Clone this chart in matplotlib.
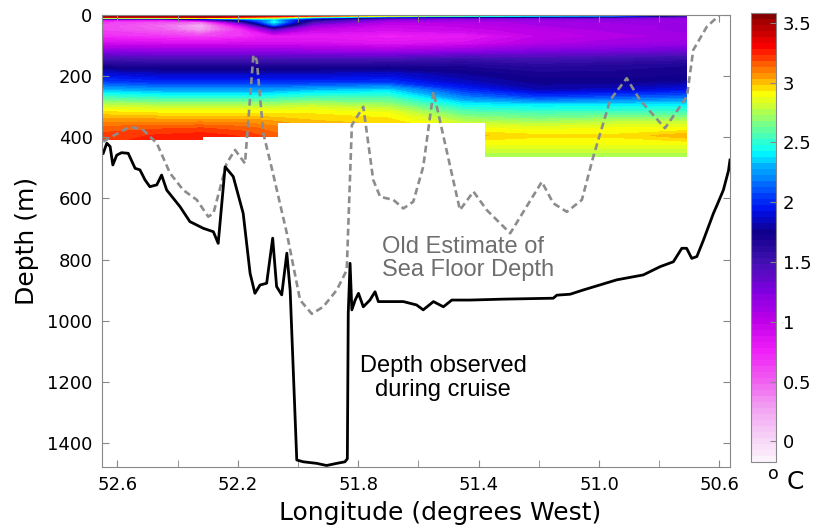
import numpy as np
import matplotlib
matplotlib.use('Agg')
import matplotlib.pyplot as plt
from matplotlib.colors import LinearSegmentedColormap
from matplotlib.patches import Polygon

# Temperature section (deg C): rows are depths, columns are stations
stn_lon = [52.65, 52.45, 52.32, 52.18, 52.08, 51.95, 51.7, 51.45, 51.2, 50.95, 50.71]
stn_depth = [0, 5, 10, 16, 24, 35, 50, 70, 95, 120, 145, 170, 195, 220, 245,
             270, 295, 320, 345, 370, 395, 420, 465]
temp = np.array([
    [3.56, 3.56, 3.56, 3.56, 3.55, 3.50, 3.45, 3.40, 3.30, 3.20, 2.00],
    [3.52, 3.52, 3.50, 3.45, 3.35, 3.20, 2.80, 2.50, 2.30, 2.10, 1.50],
    [3.30, 3.30, 3.40, 3.10, 2.90, 2.30, 1.60, 1.40, 1.35, 1.30, 1.20],
    [0.90, 0.90, 1.40, 2.00, 2.30, 1.70, 1.20, 1.15, 1.15, 1.20, 1.15],
    [0.65, 0.55, 0.45, 1.60, 2.45, 1.45, 1.05, 1.05, 1.10, 1.15, 1.15],
    [0.62, 0.45, 0.20, 1.00, 2.15, 1.15, 0.95, 1.00, 1.08, 1.10, 1.15],
    [0.62, 0.50, 0.28, 0.70, 1.30, 0.95, 0.90, 0.95, 1.02, 1.10, 1.15],
    [0.70, 0.65, 0.60, 0.68, 0.80, 0.80, 0.75, 0.80, 0.98, 1.05, 1.10],
    [0.92, 0.90, 0.90, 0.90, 0.90, 0.90, 0.85, 0.90, 1.05, 1.12, 1.15],
    [1.20, 1.18, 1.18, 1.18, 1.18, 1.15, 1.12, 1.18, 1.25, 1.28, 1.32],
    [1.48, 1.45, 1.45, 1.45, 1.45, 1.45, 1.45, 1.52, 1.48, 1.52, 1.55],
    [1.70, 1.68, 1.68, 1.68, 1.68, 1.68, 1.70, 1.68, 1.62, 1.65, 1.68],
    [1.90, 1.85, 1.85, 1.85, 1.85, 1.85, 1.88, 1.78, 1.70, 1.70, 1.72],
    [2.05, 2.00, 2.00, 2.00, 2.00, 2.00, 2.02, 1.85, 1.75, 1.75, 1.78],
    [2.30, 2.25, 2.25, 2.25, 2.25, 2.30, 2.35, 2.00, 1.82, 1.85, 1.92],
    [2.55, 2.50, 2.50, 2.50, 2.50, 2.55, 2.55, 2.20, 2.05, 2.10, 2.15],
    [2.78, 2.75, 2.75, 2.75, 2.75, 2.78, 2.72, 2.42, 2.38, 2.40, 2.40],
    [2.95, 2.92, 2.92, 2.92, 2.92, 2.92, 2.88, 2.60, 2.55, 2.55, 2.55],
    [3.05, 3.05, 3.05, 3.05, 3.02, 2.98, 2.95, 2.75, 2.70, 2.75, 2.75],
    [3.15, 3.17, 3.18, 3.15, 3.10, 3.05, 3.00, 2.88, 2.86, 2.88, 2.88],
    [3.20, 3.24, 3.26, 3.22, 3.15, 3.10, 3.05, 3.00, 2.94, 2.94, 3.02],
    [3.22, 3.26, 3.28, 3.25, 3.20, 3.15, 3.05, 2.90, 2.90, 2.90, 2.90],
    [3.24, 3.28, 3.28, 3.25, 3.20, 3.15, 3.05, 2.72, 2.72, 2.72, 2.72],
])

# how deep the temperature data reaches in each group of stations
block_edges = [52.65, 52.315, 52.065, 51.38, 50.708]
block_bottom = [410, 400, 353, 464]

# old estimate of sea floor depth
old_lon = [52.647, 52.608, 52.558, 52.514, 52.469, 52.425, 52.381, 52.336, 52.298,
           52.281, 52.237, 52.209, 52.176, 52.148, 52.137, 52.115, 52.084, 52.037,
           51.993, 51.954, 51.916, 51.871, 51.838, 51.821, 51.783, 51.750, 51.727,
           51.683, 51.650, 51.617, 51.584, 51.550, 51.462, 51.417, 51.373, 51.295,
           51.190, 51.152, 51.107, 51.057, 51.019, 50.963, 50.908, 50.864, 50.781,
           50.708, 50.687, 50.642, 50.598, 50.565]
old_depth = [415, 393, 366, 377, 420, 518, 573, 605, 660, 649, 486, 442, 486, 132,
             149, 388, 514, 714, 932, 977, 954, 899, 834, 361, 301, 540, 595, 605,
             633, 611, 497, 252, 638, 578, 638, 714, 546, 616, 644, 605, 464, 279,
             208, 279, 371, 268, 116, 40, 0, -15]

# depth observed during cruise
obs_lon = [52.647, 52.635, 52.624, 52.615, 52.602, 52.586, 52.564, 52.541, 52.525,
           52.508, 52.492, 52.469, 52.453, 52.436, 52.392, 52.359, 52.314, 52.281,
           52.265, 52.242, 52.215, 52.182, 52.159, 52.143, 52.126, 52.104, 52.084,
           52.071, 52.054, 52.037, 52.026, 52.004, 51.982, 51.938, 51.905, 51.871,
           51.844, 51.836, 51.833, 51.827, 51.821, 51.810, 51.799, 51.783, 51.761,
           51.744, 51.733, 51.650, 51.606, 51.584, 51.550, 51.517, 51.489, 51.428,
           51.318, 51.152, 51.140, 51.096, 51.052, 50.941, 50.853, 50.797, 50.753,
           50.725, 50.709, 50.692, 50.675, 50.653, 50.620, 50.608, 50.587, 50.570,
           50.565]
obs_depth = [453, 420, 431, 491, 459, 451, 453, 502, 507, 540, 562, 556, 524, 573,
             627, 676, 698, 709, 747, 497, 529, 649, 845, 910, 883, 877, 730, 888,
             915, 779, 900, 1454, 1460, 1465, 1472, 1465, 1460, 1450, 975, 812, 964,
             932, 910, 954, 932, 905, 937, 937, 948, 964, 937, 954, 932, 932, 929,
             926, 916, 913, 899, 866, 850, 823, 807, 763, 763, 796, 790, 736, 649,
             622, 573, 510, 475]

cbar_ticks = [0, 0.5, 1, 1.5, 2, 2.5, 3, 3.5]
cbar_labels = ['0', '0.5', '1', '1.5', '2', '2.5', '3', '3.5']
x_major = [52.6, 52.2, 51.8, 51.4, 51.0, 50.6]
x_minor = [52.4, 52.0, 51.6, 51.2, 50.8]
y_ticks = [0, 200, 400, 600, 800, 1000, 1200, 1400]

cmap = LinearSegmentedColormap.from_list('ctd', [
    (0.000, '#fdf5fd'), (0.045, '#f7d8f7'), (0.112, '#f3a8f3'), (0.179, '#f060f0'),
    (0.245, '#f020f8'), (0.312, '#c000e8'), (0.379, '#8000e0'), (0.445, '#4010b0'),
    (0.512, '#10008a'), (0.565, '#0010f0'), (0.605, '#0050ff'), (0.659, '#00b0ff'),
    (0.691, '#00ffff'), (0.725, '#40ffc0'), (0.765, '#90ff70'), (0.805, '#e0ff20'),
    (0.824, '#ffff00'), (0.845, '#ffc000'), (0.872, '#ff8000'), (0.899, '#ff4000'),
    (0.925, '#ff0000'), (0.965, '#c00000'), (1.000, '#800000')])
levels = np.linspace(-0.17, 3.58, 76)

fig = plt.figure(figsize=(8.19, 5.30), dpi=100)
ax = fig.add_axes([0.1249, 0.1194, 0.7664, 0.8532])
cax = fig.add_axes([0.9166, 0.1289, 0.0309, 0.846])

cs = ax.contourf(stn_lon, stn_depth, temp, levels=levels, cmap=cmap)

# keep the colour field only where data were taken
verts = [(block_edges[0], 0)]
for i, b in enumerate(block_bottom):
    verts.append((block_edges[i], b))
    verts.append((block_edges[i + 1], b))
verts.append((block_edges[-1], 0))
clip = Polygon(verts, closed=True, transform=ax.transData, facecolor='none', edgecolor='none')
cs.set_clip_path(clip)

ax.plot(old_lon, old_depth, color='#8c8c8c', lw=1.9, linestyle=(0, (2.6, 1.5)))
ax.plot(obs_lon, obs_depth, color='black', lw=2.0)

ax.text(51.72, 722, 'Old Estimate of\nSea Floor Depth', color='#6e6e6e', fontsize=17,
        family='Liberation Sans', ha='left', va='top', linespacing=1.05)
ax.text(51.518, 1187, 'Depth observed\nduring cruise', color='black', fontsize=17,
        family='Liberation Sans', ha='center', va='center', linespacing=1.1)

ax.set_xlim(52.65, 50.565)
ax.set_ylim(1476, 0)
ax.set_xticks(x_major)
ax.set_xticklabels(['%.1f' % v for v in x_major])
ax.set_xticks(x_minor, minor=True)
ax.set_yticks(y_ticks)
ax.tick_params(which='both', direction='in', top=True, right=True, length=5,
               color='#888888', labelsize=13, pad=7)
for s in ax.spines.values():
    s.set_color('#888888')
ax.set_xlabel('Longitude (degrees West)', fontsize=18)
ax.xaxis.set_label_coords(0.538, -0.075)
ax.set_ylabel('Depth (m)', fontsize=18, labelpad=6)

cb = fig.colorbar(cs, cax=cax, ticks=cbar_ticks)
cb.ax.set_yticklabels(cbar_labels)
cb.ax.tick_params(direction='in', length=4, color='#888888', labelsize=13, pad=5)
cb.outline.set_edgecolor('#888888')
fig.text(0.96, 0.09, r'$^{\rm o}$ C', fontsize=18, ha='center', va='center')

fig.savefig('out.png', dpi=100)
